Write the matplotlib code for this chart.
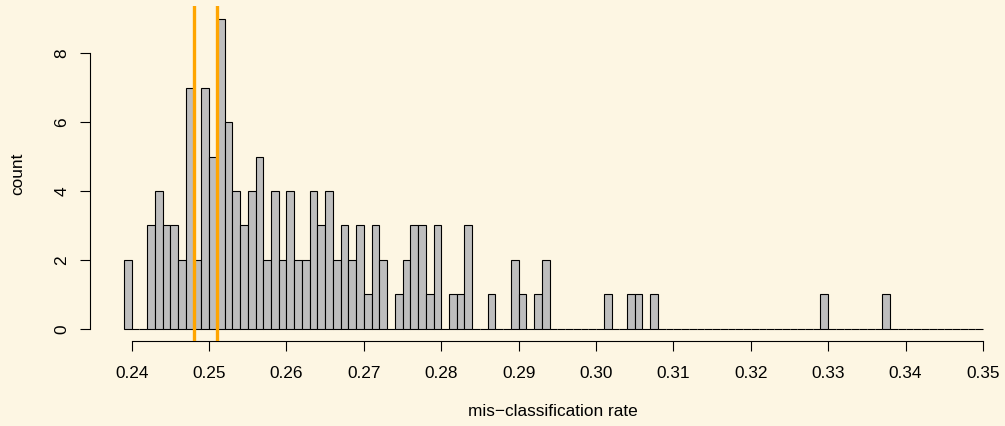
import numpy as np
import matplotlib
matplotlib.use("Agg")
import matplotlib.pyplot as plt

# ---- data ----
bin_width = 0.001
first_break = 0.239
counts = [
    2, 0, 0, 3, 4, 3, 3, 2, 7, 2, 7,      # 0.239 - 0.249
    5, 9, 6, 4, 3, 4, 5, 2, 4, 2,         # 0.250 - 0.259
    4, 2, 2, 4, 3, 4, 2, 3, 2, 3,         # 0.260 - 0.269
    1, 3, 2, 0, 1, 2, 3, 3, 1, 3,         # 0.270 - 0.279
    0, 1, 1, 3, 0, 0, 1, 0, 0, 2,         # 0.280 - 0.289
    1, 0, 1, 2, 0, 0, 0, 0, 0, 0,         # 0.290 - 0.299
    0, 1, 0, 0, 1, 1, 0, 1, 0, 0,         # 0.300 - 0.309
    0, 0, 0, 0, 0, 0, 0, 0, 0, 0,         # 0.310 - 0.319
    0, 0, 0, 0, 0, 0, 0, 0, 0, 1,         # 0.320 - 0.329
    0, 0, 0, 0, 0, 0, 0, 1, 0, 0,         # 0.330 - 0.339
    0, 0, 0, 0, 0, 0, 0, 0, 0, 0,         # 0.340 - 0.349
]
vlines = [0.2480, 0.2510]
xticks = [0.24, 0.25, 0.26, 0.27, 0.28, 0.29, 0.30, 0.31, 0.32, 0.33, 0.34, 0.35]
xtick_labels = ["0.24", "0.25", "0.26", "0.27", "0.28", "0.29", "0.30",
                "0.31", "0.32", "0.33", "0.34", "0.35"]
yticks = [0, 2, 4, 6, 8]

bg = "#FDF6E3"
plt.rcParams['font.family'] = ['Liberation Sans', 'DejaVu Sans']
fs = 12.4

W, H = 1005, 426
fig = plt.figure(figsize=(W / 100, H / 100), dpi=100, facecolor=bg)

# plot region in pixels (from top-left)
left_px, right_px = 89.6, 1005
top_px, bottom_px = 6.1, 341.4
ax = fig.add_axes([left_px / W, (H - bottom_px) / H,
                   (right_px - left_px) / W, (bottom_px - top_px) / H])
ax.set_facecolor(bg)

px_per_unit = (131.7 - 89.6) / (0.24 - 0.23456)
ax.set_xlim(0.23456, 0.23456 + (right_px - left_px) / px_per_unit)
ax.set_ylim(-0.36, 9.36)

starts = first_break + bin_width * np.arange(len(counts))
ax.bar(starts, counts, width=bin_width, align='edge', color='#BEBEBE',
       edgecolor='black', linewidth=0.8, zorder=2)

for v in vlines:
    ax.axvline(v, color='#FFA500', linewidth=2.4, zorder=3)

for s in ['top', 'right']:
    ax.spines[s].set_visible(False)
ax.spines['bottom'].set_bounds(xticks[0], xticks[-1])
ax.spines['left'].set_bounds(yticks[0], yticks[-1])
for s in ['bottom', 'left']:
    ax.spines[s].set_linewidth(0.8)

ax.set_xticks(xticks)
ax.set_xticklabels(xtick_labels)
ax.set_yticks(yticks)
ax.set_yticklabels([str(t) for t in yticks], rotation=90, va='center')
ax.tick_params(axis='both', direction='out', length=7.2, width=0.8,
               labelsize=fs, colors='black')
ax.tick_params(axis='x', pad=10.5)
ax.tick_params(axis='y', pad=7.5)

fig.text(553 / W, 1 - 411 / H, "mis\u2212classification rate", ha='center',
         va='center', fontsize=fs)
fig.text(17.5 / W, 1 - 173.7 / H, "count", ha='center', va='center',
         rotation=90, fontsize=fs)

fig.savefig("out.png", dpi=100, facecolor=bg)
